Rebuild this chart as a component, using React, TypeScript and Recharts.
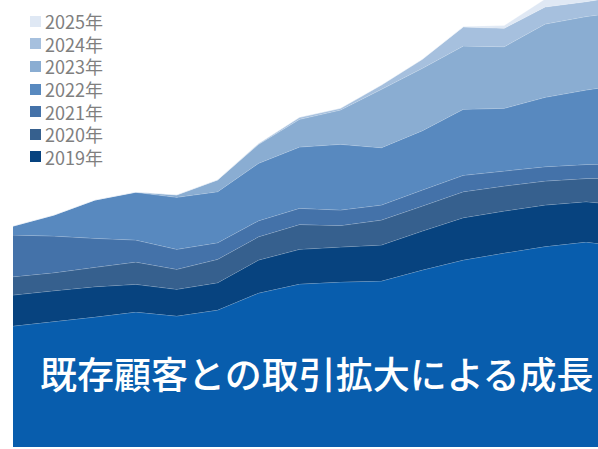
import { AreaChart, Area, XAxis, YAxis } from 'recharts';

// 16 periods, the last one falls just outside the visible frame
const periods = [
  'P01', 'P02', 'P03', 'P04', 'P05', 'P06', 'P07', 'P08',
  'P09', 'P10', 'P11', 'P12', 'P13', 'P14', 'P15', 'P16',
];

// existing-customer base (no legend entry)
const base = [121, 125.5, 130, 135, 131, 137, 154, 163, 165, 166, 177, 187, 194, 200.5, 205, 200];
const y2019 = [31, 30.8, 30.3, 27.7, 26.7, 27.3, 33, 34.7, 35, 36, 39, 42.3, 42, 41.5, 40.3, 41.5];
const y2020 = [18.3, 18, 19.4, 22.3, 20, 23.4, 23.3, 24.8, 21.5, 25, 25, 26, 25, 24, 23.2, 27.5];
const y2021 = [41.7, 36.7, 29, 22, 20, 16.6, 16, 16.2, 15.5, 15, 16, 16.4, 15, 14.3, 14, 14.5];
const y2022 = [9, 21, 38.3, 47.7, 52, 51, 57.4, 61.3, 65.7, 57.3, 59.3, 66, 62.7, 69.4, 74.5, 79.5];
const y2023 = [0, 0, 0, 0.3, 2.3, 11.7, 19, 27.7, 34.3, 58.4, 62.4, 63.3, 61.6, 73.3, 73.5, 73];
const y2024 = [0, 0, 0, 0, 0.3, 0.3, 0.8, 2, 1.7, 4.3, 9, 19, 18.4, 17, 14.8, 15.6];
const y2025 = [0, 0, 0, 0, 0, 0, 0, 0, 0, 0, 0, 0.5, 2.8, 8, 10, 12];

const title = '既存顧客との取引拡大による成長';

const series = [
  { key: 'base', label: '', color: '#085DAD', values: base },
  { key: 's2019', label: '2019年', color: '#07437F', values: y2019 },
  { key: 's2020', label: '2020年', color: '#36608E', values: y2020 },
  { key: 's2021', label: '2021年', color: '#4472A9', values: y2021 },
  { key: 's2022', label: '2022年', color: '#5889BF', values: y2022 },
  { key: 's2023', label: '2023年', color: '#8AADD2', values: y2023 },
  { key: 's2024', label: '2024年', color: '#A6C0DE', values: y2024 },
  { key: 's2025', label: '2025年', color: '#DFE8F4', values: y2025 },
];

const data = periods.map((p, i) => {
  const row: Record<string, string | number> = { period: p };
  series.forEach((s) => {
    row[s.key] = s.values[i];
  });
  return row;
});

const FONT = '"Noto Sans CJK JP", "Noto Sans", sans-serif';

export default function App() {
  const legendItems = series.filter((s) => s.label).reverse();

  return (
    <div
      style={{
        position: 'absolute',
        left: 0,
        top: 0,
        width: 598,
        height: 449,
        overflow: 'hidden',
        background: '#fff',
        fontFamily: FONT,
      }}
    >
      <AreaChart
        width={627}
        height={449}
        data={data}
        margin={{ top: 0, right: 0, bottom: 2, left: 13 }}
      >
        <XAxis dataKey="period" hide />
        <YAxis hide domain={[0, 447]} allowDataOverflow />
        {series.map((s) => (
          <Area
            key={s.key}
            type="linear"
            dataKey={s.key}
            stackId="1"
            fill={s.color}
            fillOpacity={1}
            stroke="#ffffff"
            strokeOpacity={0.4}
            strokeWidth={0.8}
            isAnimationActive={false}
          />
        ))}
      </AreaChart>

      {/* legend, newest year on top */}
      <div style={{ position: 'absolute', left: 30, top: 10 }}>
        {legendItems.map((s) => (
          <div
            key={s.key}
            style={{ display: 'flex', alignItems: 'center', height: 22.6 }}
          >
            <span
              style={{
                width: 11,
                height: 11,
                background: s.color,
                marginRight: 4,
                display: 'inline-block',
              }}
            />
            <span style={{ fontSize: 18, color: '#7f7f7f', lineHeight: '18px' }}>
              {s.label}
            </span>
          </div>
        ))}
      </div>

      <div
        style={{
          position: 'absolute',
          left: 40,
          top: 355,
          fontSize: 37,
          lineHeight: 1,
          color: '#ffffff',
          fontWeight: 500,
          whiteSpace: 'nowrap',
        }}
      >
        {title}
      </div>
    </div>
  );
}
